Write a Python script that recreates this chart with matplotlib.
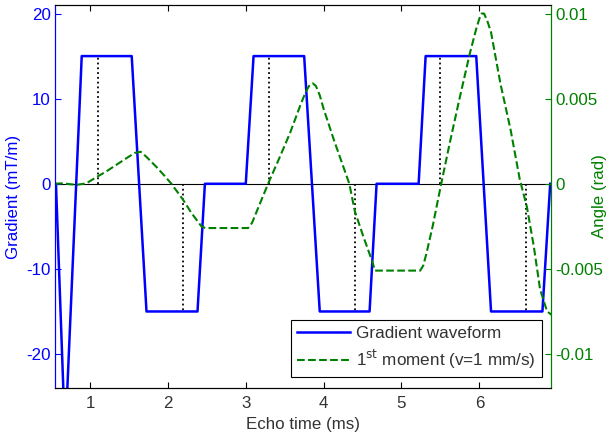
import numpy as np
import matplotlib.pyplot as plt

plt.rcParams['font.family'] = ['Liberation Sans', 'DejaVu Sans']
plt.rcParams['font.size'] = 12.2
plt.rcParams['axes.unicode_minus'] = False

# gradient waveform vertices (ms, mT/m)
grad_t = [0.55, 0.562, 0.68, 0.893, 1.535, 1.725, 2.38, 2.475, 3.0, 3.10, 3.75, 3.95,
          4.59, 4.68, 5.22, 5.31, 5.96, 6.15, 6.81, 6.91]
grad_g = [0, 0, -30, 15, 15, -15, -15, 0, 0, 15, 15, -15,
          -15, 0, 0, 15, 15, -15, -15, 0]

# first moment phase (rad)
mom_t = [0.55, 0.65, 0.75, 0.83, 0.95, 1.085, 1.2, 1.3, 1.4, 1.5, 1.58, 1.65, 1.72,
         1.85, 1.95, 2.045, 2.195, 2.3, 2.43, 2.48, 3.03, 3.08, 3.14, 3.29, 3.43,
         3.57, 3.70, 3.77, 3.82, 3.86, 3.90, 3.95, 4.0, 4.13, 4.33, 4.40, 4.51, 4.62,
         4.66, 5.24, 5.28, 5.32, 5.40, 5.51, 5.62, 5.75, 5.88, 5.96, 6.0, 6.03, 6.06,
         6.10, 6.15, 6.27, 6.40, 6.52, 6.61, 6.70, 6.78, 6.87, 6.93]
mom_v = [0, 0.00003, -0.00003, -0.00006, 0.00002, 0.0004, 0.0007, 0.001, 0.0013,
         0.0016, 0.00182, 0.00188, 0.0016, 0.001, 0.0005, 0.0, -0.00094, -0.0017,
         -0.0025, -0.0026, -0.0026, -0.0023, -0.00163, 0.00004, 0.0015, 0.003,
         0.0046, 0.0054, 0.0058, 0.0059, 0.00575, 0.0052, 0.0044, 0.0026, 0.0,
         -0.0016, -0.0031, -0.0045, -0.0051, -0.0051, -0.0048, -0.0041, -0.0025, 0.0,
         0.0024, 0.0051, 0.0077, 0.0091, 0.0097, 0.0100, 0.0100, 0.0096, 0.0089,
         0.0059, 0.0032, 0.00024, -0.00134, -0.0037, -0.0062, -0.0075, -0.0077]

# echo time markers
echo_t = [1.1, 2.2, 3.3, 4.4, 5.5, 6.6]
echo_g = [15, -15, 15, -15, 15, -15]

blue = (0, 0, 1)
green = (0, 0.5, 0)
dark = '#333333'

fig = plt.figure(figsize=(6.12, 4.4), dpi=100)
ax = fig.add_axes([0.0899, 0.118, 0.8104, 0.8706])
ax2 = ax.twinx()

ax.axhline(0, color='black', lw=0.8, zorder=1)
for t, g in zip(echo_t, echo_g):
    ax.plot([t, t], [0, g], color='black', ls=':', lw=1.3, zorder=2)
h1, = ax.plot(grad_t, grad_g, color=blue, lw=1.8, zorder=3, label='Gradient waveform')
h2, = ax2.plot(mom_t, mom_v, color=green, ls='--', lw=1.5,
               label='1$^{\\mathrm{st}}$ moment (v=1 mm/s)')

ax.set_xlim(0.55, 6.92)
ax.set_ylim(-24, 21)
ax2.set_ylim(-0.012, 0.0105)
ax.set_xticks([1, 2, 3, 4, 5, 6])
ax.set_yticks([-20, -10, 0, 10, 20])
ax2.set_yticks([-0.01, -0.005, 0, 0.005, 0.01])
ax2.set_yticklabels(['-0.01', '-0.005', '0', '0.005', '0.01'])

ax.tick_params(axis='x', direction='in', top=True, length=4, pad=6,
               colors='black', labelcolor=dark)
ax.tick_params(axis='y', direction='in', length=4, pad=3, colors=blue, labelcolor=blue)
ax2.tick_params(axis='y', direction='in', length=4, pad=3, colors=green, labelcolor=green)
ax2.spines['left'].set_color(blue)
ax2.spines['right'].set_color(green)
ax.spines['left'].set_color(blue)
ax.spines['right'].set_color(green)

ax.set_xlabel('Echo time (ms)', color=dark, labelpad=4)
ax.set_ylabel('Gradient (mT/m)', color=blue)
ax.yaxis.set_label_coords(-0.083, 0.5)
ax.yaxis.label.set_va('center')
ax2.set_ylabel('Angle (rad)', color=green)
ax2.yaxis.set_label_coords(1.097, 0.5)
ax2.yaxis.label.set_va('center')

leg = ax2.legend([h1, h2], [h1.get_label(), h2.get_label()], loc='lower right',
                 bbox_to_anchor=(0.988, 0.02), fancybox=False, framealpha=1,
                 edgecolor='black', fontsize=12.3, handlelength=3.1,
                 handletextpad=0.36, borderpad=0.35, labelspacing=0.38,
                 borderaxespad=0.2)
leg.get_frame().set_linewidth(0.8)
for txt in leg.get_texts():
    txt.set_color(dark)

fig.savefig('out.png', dpi=100)
